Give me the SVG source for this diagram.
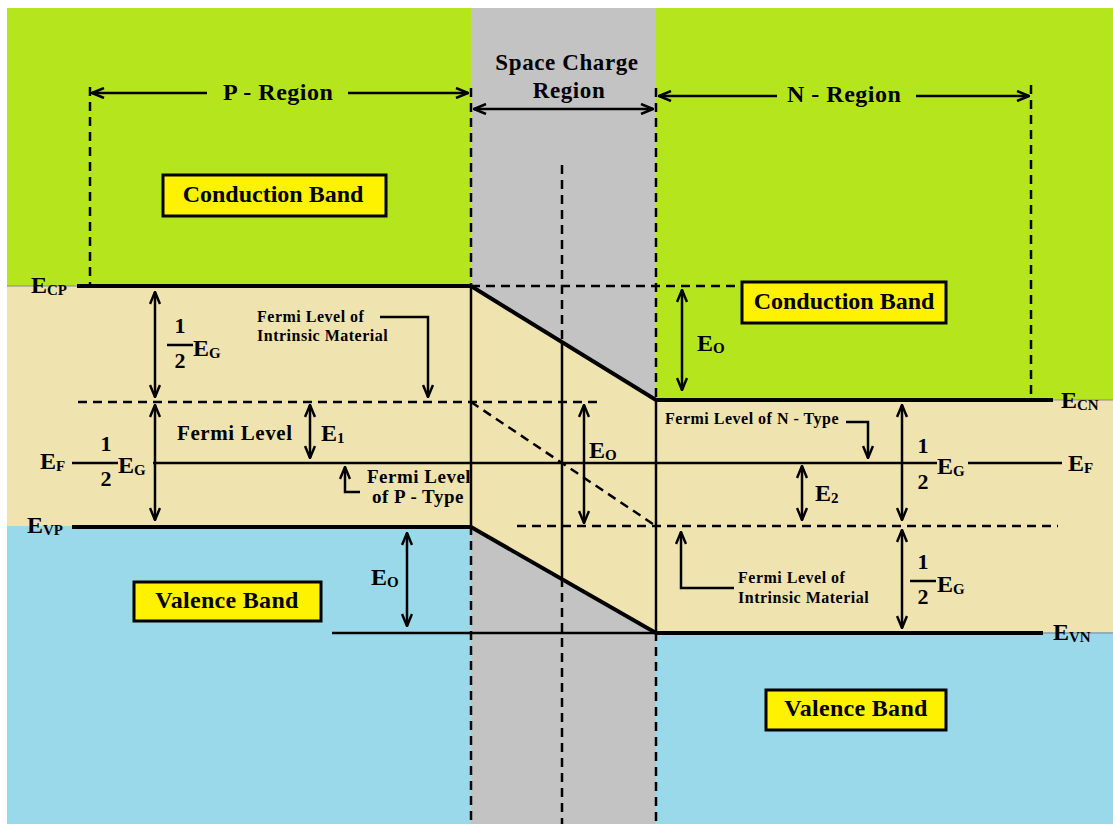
<svg xmlns="http://www.w3.org/2000/svg" width="1113" height="824" viewBox="0 0 1113 824">
<defs>
<style>
text{font-family:"Liberation Serif","Times New Roman",serif;font-weight:bold;fill:#000}
.big{font-size:24px}
.sub{font-size:15px}
.frac{font-size:22px}
.small{font-size:16px;letter-spacing:0.5px}
.mid{font-size:19px;letter-spacing:0.5px}
.thick{stroke:#000;stroke-width:4;fill:none}
.thin{stroke:#000;stroke-width:2.5;fill:none}
.dash{stroke:#000;stroke-width:2.5;fill:none;stroke-dasharray:9,6}
.arr{stroke:#000;stroke-width:2.5;fill:none;marker-end:url(#ah)}
.darr{stroke:#000;stroke-width:2.5;fill:none;marker-end:url(#ah);marker-start:url(#ah)}
.box{fill:#fff200;stroke:#000;stroke-width:3}
</style>
<marker id="ah" viewBox="0 0 14 12" refX="13" refY="6" markerWidth="14" markerHeight="12" markerUnits="userSpaceOnUse" orient="auto-start-reverse">
<path d="M1,1 L13,6 L1,11" fill="none" stroke="#000" stroke-width="2.5"/>
</marker>
</defs>
<rect width="1113" height="824" fill="#fff"/>
<g id="bands">
<rect x="7" y="8" width="464" height="278" fill="#b5e61d"/>
<rect x="656" y="8" width="457" height="392" fill="#b5e61d"/>
<rect x="471" y="8" width="185" height="816" fill="#c3c3c3"/>
<rect x="7" y="286" width="464" height="240" fill="#efe4b0"/>
<rect x="656" y="400" width="457" height="232" fill="#efe4b0"/>
<polygon points="471,286 656,400 656,632 471,526" fill="#efe4b0"/>
<rect x="7" y="526" width="464" height="298" fill="#99d9ea"/>
<rect x="656" y="632" width="457" height="192" fill="#99d9ea"/>
<line x1="7" y1="286" x2="77" y2="286" stroke="#888" stroke-width="1"/>
<line x1="1053" y1="400" x2="1113" y2="400" stroke="#888" stroke-width="1"/>
<line x1="1043" y1="633" x2="1113" y2="633" stroke="#888" stroke-width="1"/>
</g>
<g id="connectors">
<path class="thick" d="M77,286 H471 L656,400 H1053"/>
<path class="thick" d="M72,527 H471 L656,633 H1043"/>
<path class="thin" d="M72,463 H118 M153,463 H937 M968,463 H1062"/>
<path class="thin" d="M332,633 H656"/>
<path class="thin" d="M167,345 H193 M910,581 H936"/>
<path class="dash" d="M78,402 H600"/>
<path class="dash" d="M471,402 L656,526"/>
<path class="dash" d="M517,526 H1058"/>
<path class="dash" d="M471,286 H740"/>
<path class="dash" d="M90,87 V286"/>
<path class="dash" d="M1031,85 V400"/>
<path class="dash" d="M471,88 V286 M471,526 V824"/>
<path class="thin" d="M471,286 V526"/>
<path class="dash" d="M656,88 V400 M656,632 V824"/>
<path class="thin" d="M656,400 V632"/>
<path class="dash" d="M562,165 V342 M562,578 V824"/>
<path class="thin" d="M562,342 V578"/>
<path class="arr" d="M207,93 H92"/>
<path class="arr" d="M348,93 H468"/>
<path class="darr" d="M474,109 H653"/>
<path class="arr" d="M777,96 H659"/>
<path class="arr" d="M916,96 H1029"/>
<path class="darr" d="M155,292 V397"/>
<path class="darr" d="M155,405 V520"/>
<path class="darr" d="M310,405 V458"/>
<path class="darr" d="M682,290 V390"/>
<path class="darr" d="M584,405 V523"/>
<path class="darr" d="M802,466 V520"/>
<path class="darr" d="M902,405 V520"/>
<path class="darr" d="M902,530 V628"/>
<path class="darr" d="M407,533 V626"/>
<path class="arr" d="M380,317 H428 V397"/>
<path class="arr" d="M360,492 H345 V467"/>
<path class="arr" d="M846,422 H868 V458"/>
<path class="arr" d="M734,588 H681 V532"/>
</g>
<g id="region-labels">
<text class="big" x="223" y="100" letter-spacing="0.5">P - Region</text>
<text class="big" x="787" y="102" letter-spacing="0.5">N - Region</text>
<text x="567" y="70" font-size="23" text-anchor="middle" letter-spacing="0.6">Space Charge</text>
<text x="569" y="98" font-size="23" text-anchor="middle" letter-spacing="0.6">Region</text>
</g>
<g id="cb-p"><rect class="box" x="163" y="175" width="223" height="41"/><text class="big" x="273" y="202" text-anchor="middle" font-size="25">Conduction Band</text></g>
<g id="cb-n"><rect class="box" x="742" y="282" width="204" height="41"/><text class="big" x="844" y="309" text-anchor="middle" font-size="25">Conduction Band</text></g>
<g id="vb-p"><rect class="box" x="134" y="582" width="187" height="39"/><text class="big" x="227" y="608" text-anchor="middle" letter-spacing="0.3">Valence Band</text></g>
<g id="vb-n"><rect class="box" x="766" y="690" width="180" height="40"/><text class="big" x="856" y="716" text-anchor="middle" letter-spacing="0.3">Valence Band</text></g>
<g id="level-labels">
<text class="big" x="31" y="293">E<tspan class="sub" dy="2">CP</tspan></text>
<text class="big" x="40" y="469">E<tspan class="sub" dy="2">F</tspan></text>
<text class="big" x="27" y="533">E<tspan class="sub" dy="2">VP</tspan></text>
<text class="big" x="1061" y="408">E<tspan class="sub" dy="2">CN</tspan></text>
<text class="big" x="1068" y="471">E<tspan class="sub" dy="2">F</tspan></text>
<text class="big" x="1053" y="640">E<tspan class="sub" dy="2">VN</tspan></text>
</g>
<g id="energy-labels">
<text class="big" x="697" y="351">E<tspan class="sub" dy="2">O</tspan></text>
<text class="big" x="589" y="458">E<tspan class="sub" dy="2">O</tspan></text>
<text class="big" x="371" y="585">E<tspan class="sub" dy="2">O</tspan></text>
<text class="big" x="321" y="441">E<tspan class="sub" dy="2">1</tspan></text>
<text class="big" x="815" y="501">E<tspan class="sub" dy="2">2</tspan></text>
</g>
<g id="half-eg">
<text class="frac" x="180" y="333" text-anchor="middle">1</text>
<text class="frac" x="180" y="368" text-anchor="middle">2</text>
<text class="big" x="193" y="356">E<tspan class="sub" dy="2">G</tspan></text>
<text class="frac" x="106" y="451" text-anchor="middle">1</text>
<text class="frac" x="106" y="486" text-anchor="middle">2</text>
<text class="big" x="118" y="473">E<tspan class="sub" dy="2">G</tspan></text>
<text class="frac" x="923" y="453" text-anchor="middle">1</text>
<text class="frac" x="923" y="489" text-anchor="middle">2</text>
<text class="big" x="937" y="474">E<tspan class="sub" dy="2">G</tspan></text>
<text class="frac" x="923" y="569" text-anchor="middle">1</text>
<text class="frac" x="923" y="604" text-anchor="middle">2</text>
<text class="big" x="937" y="592">E<tspan class="sub" dy="2">G</tspan></text>
</g>
<g id="fermi-labels">
<text class="small" x="257" y="322">Fermi Level of</text>
<text class="small" x="257" y="341">Intrinsic Material</text>
<text x="177" y="440" font-size="21" letter-spacing="0.6">Fermi Level</text>
<text class="mid" x="367" y="483">Fermi Level</text>
<text class="mid" x="372" y="503">of P - Type</text>
<text class="small" x="665" y="424">Fermi Level of N - Type</text>
<text class="small" x="738" y="583">Fermi Level of</text>
<text class="small" x="738" y="603">Intrinsic Material</text>
</g>
</svg>
